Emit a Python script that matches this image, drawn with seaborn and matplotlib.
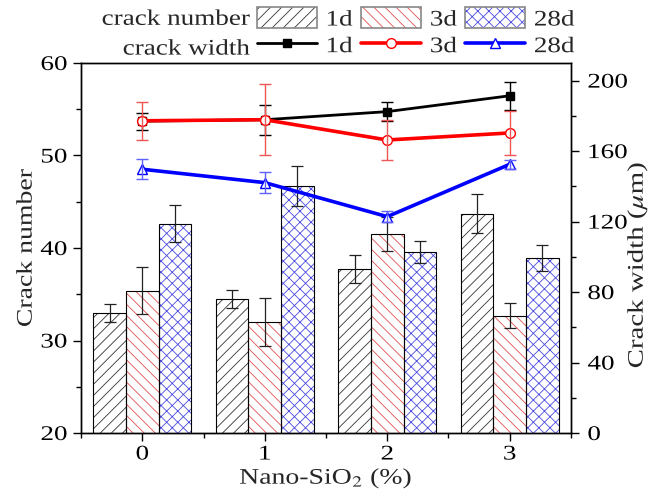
import numpy as np
import pandas as pd
import matplotlib
matplotlib.use("Agg")
import matplotlib.pyplot as plt
import seaborn as sns
from matplotlib.patches import Patch, Rectangle
from matplotlib.lines import Line2D
from matplotlib.legend_handler import HandlerTuple
from matplotlib.ticker import MultipleLocator, FixedLocator
from matplotlib.patheffects import AbstractPathEffect
from matplotlib.transforms import Affine2D

# Nano-SiO2 dosage (%) and curing ages
content = ["0", "1", "2", "3"]
ages = ["1d", "3d", "28d"]

# crack number (mean, error)
num_1d = [33.0, 34.5, 37.7, 43.7]
num_3d = [35.4, 32.0, 41.5, 32.7]
num_28d = [42.6, 46.7, 39.6, 38.9]
num_err_1d = [1.0, 1.0, 1.5, 2.1]
num_err_3d = [2.5, 2.6, 1.8, 1.4]
num_err_28d = [2.0, 2.2, 1.2, 1.4]

# crack width in micrometres (mean, error)
width_1d = [177.0, 177.8, 182.4, 191.4]
width_3d = [177.2, 177.8, 166.3, 170.3]
width_28d = [149.7, 142.1, 122.8, 152.5]
width_err_1d = [4.8, 8.4, 5.5, 7.9]
width_err_3d = [10.7, 20.0, 11.4, 12.4]
width_err_28d = [5.8, 6.0, 3.0, 2.5]


class WideText(AbstractPathEffect):
    """Draw text glyphs stretched along the baseline about an anchor side."""

    def __init__(self, s=1.25, anchor="center", axis="x"):
        super().__init__()
        self.s = s
        self.anchor = anchor
        self.axis = axis

    def draw_path(self, renderer, gc, tpath, affine, rgbFace=None):
        ext = tpath.get_extents(affine)
        if self.axis == "x":
            lo, hi = ext.x0, ext.x1
        else:
            lo, hi = ext.y0, ext.y1
        if self.anchor == "left":
            c = lo
        elif self.anchor == "right":
            c = hi
        else:
            c = 0.5 * (lo + hi)
        if self.axis == "x":
            extra = Affine2D().translate(-c, 0).scale(self.s, 1.0).translate(c, 0)
        else:
            extra = Affine2D().translate(0, -c).scale(1.0, self.s).translate(0, c)
        renderer.draw_path(gc, tpath, affine + extra, rgbFace)


sns.set_theme(style="white")
plt.rcParams["font.family"] = ["Liberation Serif", "DejaVu Serif"]
plt.rcParams["mathtext.fontset"] = "stix"
plt.rcParams["hatch.linewidth"] = 0.6

nums = [num_1d, num_3d, num_28d]
num_errs = [num_err_1d, num_err_3d, num_err_28d]
widths = [width_1d, width_3d, width_28d]
width_errs = [width_err_1d, width_err_3d, width_err_28d]

df = pd.DataFrame({
    "content": np.tile(content, len(ages)),
    "pos": np.tile(np.arange(len(content)), len(ages)),
    "age": np.repeat(ages, len(content)),
    "num": np.concatenate(nums),
    "width": np.concatenate(widths),
})

hatches = ["///", "\\\\\\", "xxx"]
hatch_colors = ["#333333", "#e05050", "#4a4ae0"]
line_colors = ["black", "#ff0000", "#0000ff"]
err_colors = ["black", "#ee5555", "#6060ff"]
markers = ["s", "o", "^"]
mfaces = ["black", "white", "white"]
msizes = [6, 7, 7.5]
lws = [2.0, 2.6, 2.6]

TICK_FS = 15
LABEL_FS = 16
LEG_FS = 16

fig = plt.figure(figsize=(6.54, 4.96), dpi=100)
ax = fig.add_axes([0.124, 0.127, 0.749, 0.746])

sns.barplot(data=df, x="content", y="num", hue="age", order=content,
            hue_order=ages, palette=["white"] * 3, errorbar=None,
            legend=False, ax=ax, width=0.8)

for cont, h, hc, vals, errs in zip(ax.containers, hatches, hatch_colors, nums, num_errs):
    xs = []
    for bar in cont:
        bar.set_hatch(h)
        bar.set_edgecolor(hc)
        bar.set_linewidth(0)
        ax.add_patch(Rectangle(bar.get_xy(), bar.get_width(), bar.get_height(),
                               fill=False, edgecolor="black", lw=0.8, zorder=3))
        xs.append(bar.get_x() + bar.get_width() / 2)
    ax.errorbar(xs, vals, yerr=errs, fmt="none", ecolor="#222222",
                elinewidth=0.9, capsize=4, capthick=0.9, zorder=4)

ax.set_xlim(-0.5, 3.5)
ax.set_ylim(20, 60)
ax.yaxis.set_major_locator(MultipleLocator(10))
ax.yaxis.set_minor_locator(MultipleLocator(5))
ax.xaxis.set_minor_locator(FixedLocator(np.arange(-0.5, 3.6, 1.0)))
ax.set_xlabel("Nano-SiO$_2$ (%)", fontsize=LABEL_FS, labelpad=2)
ax.set_ylabel("Crack number", fontsize=LABEL_FS, labelpad=7)

ax2 = ax.twinx()
for vals, errs, age, lc, ec, mk, mf, ms, lw in zip(widths, width_errs, ages, line_colors,
                                                 err_colors, markers, mfaces, msizes, lws):
    sub = df[df["age"] == age]
    sns.lineplot(data=sub, x="pos", y="width", color=lc, lw=lw, marker=mk,
                 markersize=ms, markerfacecolor=mf, markeredgecolor=lc,
                 markeredgewidth=1.0, ax=ax2, legend=False)
    ax2.errorbar(sub["pos"], vals, yerr=errs, fmt="none", ecolor=ec,
                 elinewidth=1.0, capsize=4, capthick=1.0)

ax2.set_ylim(0, 210)
ax2.set_xlim(-0.5, 3.5)
ax2.yaxis.set_major_locator(MultipleLocator(40))
ax2.yaxis.set_minor_locator(MultipleLocator(20))
ax2.set_ylabel("Crack width ($\\mu$m)", fontsize=LABEL_FS)
ax2.yaxis.set_label_coords(1.112, 0.455)

for a in (ax, ax2):
    for s in a.spines.values():
        s.set_color("black")
        s.set_linewidth(1.0)
    a.tick_params(which="both", direction="out", color="black", labelsize=TICK_FS,
                  top=False, labelcolor="black")
    a.tick_params(which="major", length=6, width=1.0)
    a.tick_params(which="minor", length=3.5, width=1.0)
ax.tick_params(axis="y", which="both", left=True, right=False, pad=4)
ax.tick_params(axis="x", which="both", bottom=True, pad=3)
ax2.tick_params(axis="y", which="both", right=True, left=False, pad=6)

# legend: hatched bars (row 1) and lines (row 2)
handles, labels = [], []
for h, hc, lc, mk, mf, ms, lw, age in zip(hatches, hatch_colors, line_colors, markers,
                                          mfaces, msizes, lws, ages):
    bar_h = (Patch(facecolor="white", edgecolor=hc, hatch=h, lw=0),
             Patch(facecolor="none", edgecolor="#888888", lw=1.2))
    line_h = Line2D([], [], color=lc, lw=lw, marker=mk, markersize=ms,
                    markerfacecolor=mf, markeredgecolor=lc)
    handles += [bar_h, line_h]
    labels += [age, age]

leg = fig.legend(handles, labels, ncol=3, loc="upper left",
                 bbox_to_anchor=(0.393, 0.985), frameon=False, fontsize=LEG_FS,
                 handlelength=2.7, handleheight=1.08, handletextpad=0.4,
                 columnspacing=0.59, labelspacing=0.16, borderpad=0.0,
                 borderaxespad=0.0, handler_map={tuple: HandlerTuple(ndivide=1)})
t1 = fig.text(0.382, 0.959, "crack number", ha="right", va="center", fontsize=LEG_FS)
t2 = fig.text(0.382, 0.899, "crack width", ha="right", va="center", fontsize=LEG_FS)

# widen the glyphs of all texts along their baselines
fig.canvas.draw()
for t in ax.get_xticklabels():
    t.set_path_effects([WideText(1.3, "center")])
for t in ax.get_yticklabels():
    t.set_path_effects([WideText(1.3, "right")])
for t in ax2.get_yticklabels():
    t.set_path_effects([WideText(1.3, "left")])
ax.xaxis.label.set_path_effects([WideText(1.25, "center")])
ax.yaxis.label.set_path_effects([WideText(1.25, "center", axis="y")])
ax2.yaxis.label.set_path_effects([WideText(1.3, "center", axis="y")])
for t in leg.get_texts():
    t.set_path_effects([WideText(1.22, "left")])
for t in (t1, t2):
    t.set_path_effects([WideText(1.22, "right")])

fig.savefig("out.png", dpi=100)
